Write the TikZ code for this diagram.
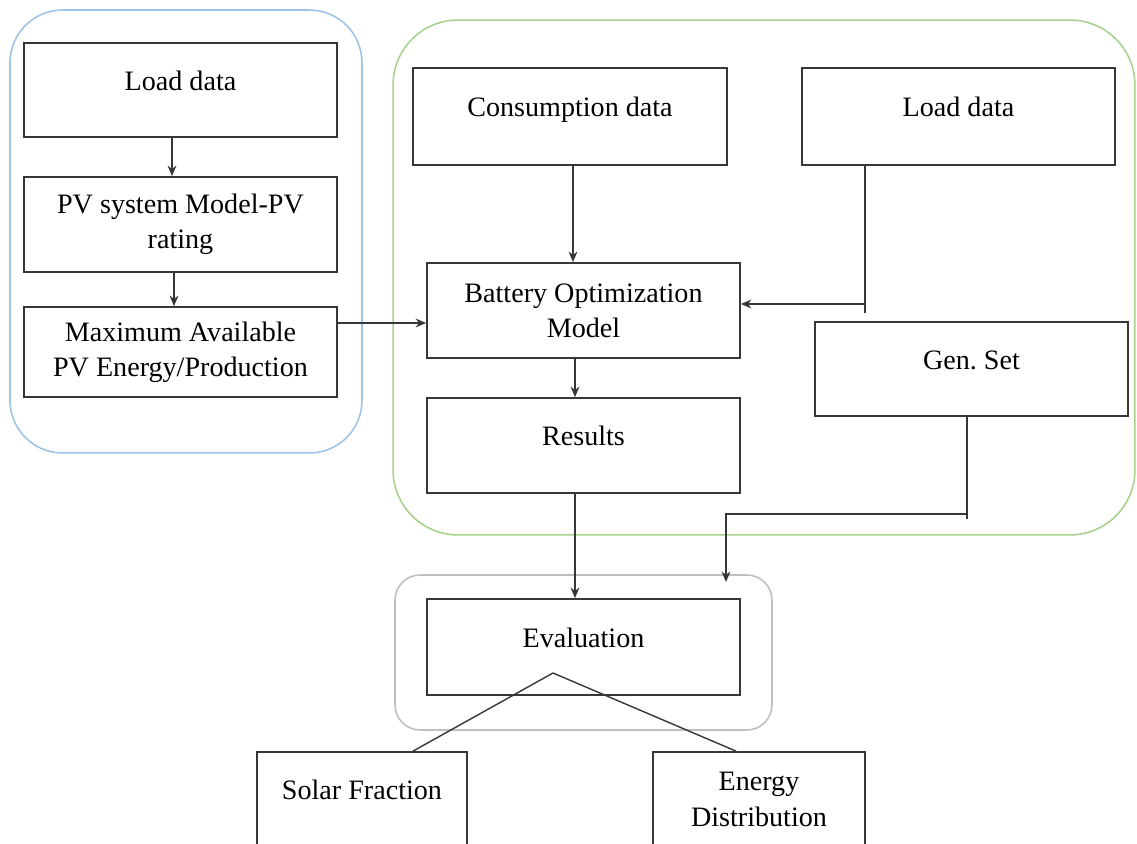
\documentclass[tikz,border=0pt]{standalone}
\usepackage{fontspec}
\setmainfont{Liberation Serif}
\usepackage{xcolor}
\usetikzlibrary{arrows.meta,positioning,calc}
\definecolor{azulclaro}{RGB}{157,195,230}
\definecolor{verdeclaro}{RGB}{169,209,142}
\definecolor{grisclaro}{RGB}{191,191,191}
\definecolor{trazo}{RGB}{55,55,55}
\tikzset{
  caja/.style={draw=trazo,line width=1pt,minimum width=6.26cm,minimum height=1.9cm,align=center,font=\fontsize{16}{20}\selectfont},
  unalinea/.style={text height=0.75em,text depth=0.7em},
  grupo/.style={line width=0.9pt,inner sep=0pt},
  flecha/.style={draw=trazo,line width=0.8pt,-{Stealth[length=6pt,width=5pt]}},
  linea/.style={draw=trazo,line width=0.8pt}
}
\begin{document}
\begin{tikzpicture}[x=0.02cm,y=-0.02cm]
\clip (0,0) rectangle (1137,844);
\node[grupo,draw=azulclaro,rounded corners=1.05cm,minimum width=7.04cm,minimum height=8.86cm] (grupopv) at (186,231.5) {};
\node[grupo,draw=verdeclaro,rounded corners=1.3cm,minimum width=14.84cm,minimum height=10.3cm] (grupobat) at (764,277.5) {};
\node[grupo,draw=grisclaro,rounded corners=0.5cm,minimum width=7.54cm,minimum height=3.1cm] (grupoeval) at (583.5,652.5) {};

\node[caja,unalinea,minimum height=1.88cm] (carga) at (180.5,90) {Load data};
\node[caja] (modelopv) at (180.5,224.5) {PV system Model-PV\\rating};
\node[caja,minimum height=1.8cm] (maxpv) at (180.5,352) {Maximum Available\\PV Energy/Production};
\node[caja,unalinea,minimum width=6.28cm,minimum height=1.94cm] (consumo) at (570,116.5) {Consumption data};
\node[caja,unalinea,minimum height=1.94cm] (carga2) at (958.5,116.5) {Load data};
\node[caja] (bateria) at (583.5,310.5) {Battery Optimization\\Model};
\node[caja,unalinea] (resultados) at (583.5,445.5) {Results};
\node[caja,unalinea,minimum height=1.88cm] (genset) at (971.5,369) {Gen.\ Set};
\node[caja,unalinea,minimum height=1.92cm] (evaluacion) at (583.5,647) {Evaluation};
\node[caja,unalinea,minimum width=4.2cm] (solar) at (362,799.5) {Solar Fraction};
\node[caja,minimum width=4.24cm] (energia) at (759,799.5) {Energy\\Distribution};

\coordinate (cruce1) at (865,304);
\coordinate (fin1) at (865,313);
\coordinate (cruce2) at (967,514);
\coordinate (fin2) at (967,519);
\coordinate (punta) at (726,582);
\coordinate (vertice) at (553,673);

\draw[flecha] ([xshift=-0.17cm]carga.south) -- ([xshift=-0.17cm]modelopv.north);
\draw[flecha] ([xshift=-0.13cm]modelopv.south) -- ([xshift=-0.13cm]maxpv.north);
\draw[flecha] ([yshift=0.58cm]maxpv.east) -- ([yshift=0.58cm]maxpv.east -| bateria.west);
\draw[flecha] ([xshift=0.06cm]consumo.south) -- ([xshift=0.06cm]consumo.south |- bateria.north);
\draw[linea] (carga2.south -| fin1) -- (fin1);
\draw[flecha] (cruce1) -- (cruce1 -| bateria.east);
\draw[flecha] ([xshift=-0.17cm]bateria.south) -- ([xshift=-0.17cm]resultados.north);
\draw[flecha] ([xshift=-0.17cm]resultados.south) -- ([xshift=-0.17cm]evaluacion.north);
\draw[linea] (genset.south -| fin2) -- (fin2);
\draw[flecha] (cruce2) -| (punta);
\draw[linea] (vertice) -- ([xshift=1.02cm]solar.north);
\draw[linea] (vertice) -- ([xshift=-0.46cm]energia.north);
\end{tikzpicture}
\end{document}
